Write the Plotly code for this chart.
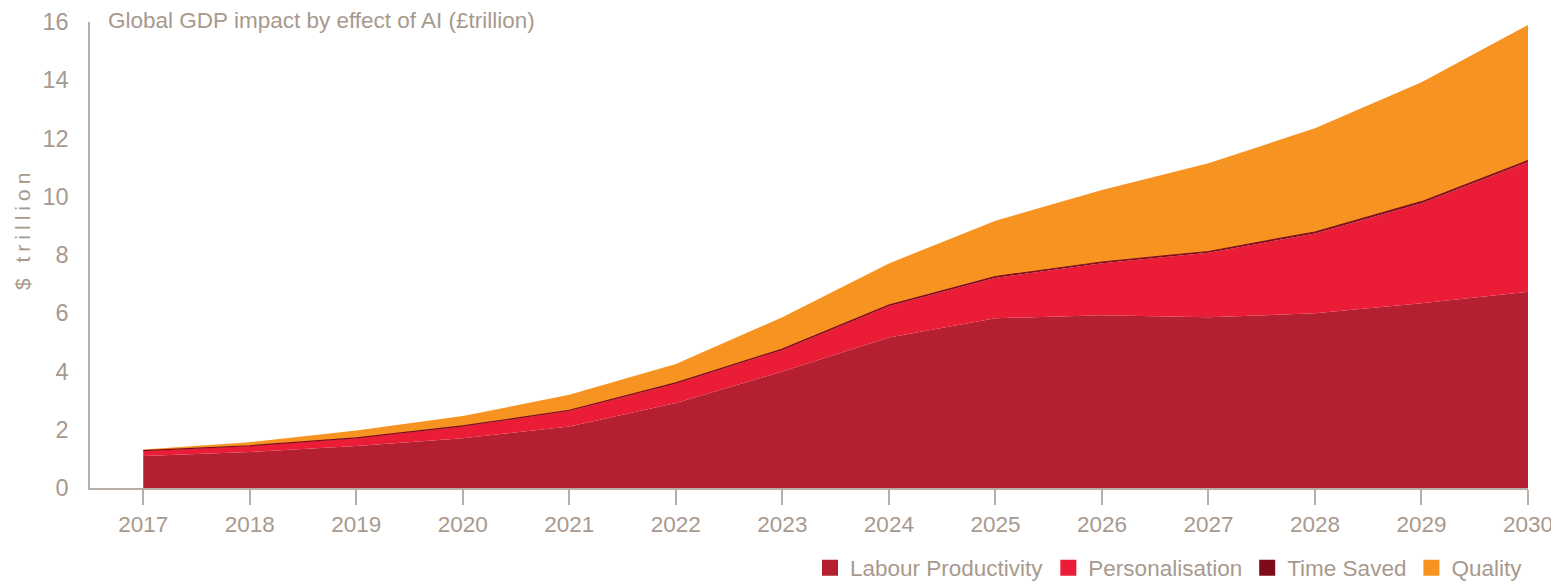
import plotly.graph_objects as go

years = list(range(2017, 2031))
labour_productivity = [1.10, 1.24, 1.44, 1.71, 2.11, 2.92, 4.00, 5.17, 5.83, 5.93, 5.86, 6.00, 6.34, 6.74]
personalisation = [0.17, 0.20, 0.27, 0.40, 0.54, 0.67, 0.74, 1.08, 1.39, 1.79, 2.22, 2.74, 3.44, 4.45]
time_saved = [0.01, 0.01, 0.01, 0.02, 0.02, 0.02, 0.03, 0.03, 0.04, 0.04, 0.04, 0.05, 0.05, 0.05]
quality = [0.04, 0.12, 0.25, 0.34, 0.53, 0.65, 1.09, 1.43, 1.92, 2.47, 3.03, 3.56, 4.10, 4.66]

series_names = ["Labour Productivity", "Personalisation", "Time Saved", "Quality"]
series_values = [labour_productivity, personalisation, time_saved, quality]
colors = ["#b51f32", "#eb1c36", "#7e0a1b", "#f79321"]
line_widths = [0, 0, 1.2, 0]

y_ticks = [0, 2, 4, 6, 8, 10, 12, 14, 16]

FONT = "Liberation Sans, Arial, sans-serif"
FS = 22.5
TXT = "#a8998e"
AX = "#b8aea7"

# page body has an 8px margin, so the figure is offset by 8px inside the window
W, H = 1551, 577

fig = go.Figure()
for name, vals, col, lw in zip(series_names, series_values, colors, line_widths):
    fig.add_trace(go.Scatter(
        x=years, y=vals, name=name, mode="lines",
        stackgroup="one", fillcolor=col,
        line=dict(color=col, width=lw),
        showlegend=False, hoverinfo="x+y+name",
    ))
# legend entries as square swatches
for name, col in zip(series_names, colors):
    fig.add_trace(go.Scatter(
        x=[None], y=[None], name=name, mode="markers",
        marker=dict(symbol="square", size=20, color=col),
        showlegend=True,
    ))

fig.update_layout(
    width=W, height=H,
    margin=dict(l=82, r=31, t=14, b=97, autoexpand=False),
    paper_bgcolor="white", plot_bgcolor="white",
    font=dict(family=FONT, size=FS, color=TXT),
    title=dict(
        text="Global GDP impact by effect of AI (£trillion)",
        x=100 / W, xanchor="left", xref="container",
        y=1 - 12 / H, yanchor="middle", yref="container",
        font=dict(family=FONT, size=FS, color=TXT),
    ),
    legend=dict(
        orientation="h", x=1.0, xanchor="right",
        y=(488 - 568) / 466, yanchor="middle",
        font=dict(family=FONT, size=FS, color=TXT),
        itemclick=False, traceorder="normal",
        bgcolor="rgba(0,0,0,0)",
    ),
    xaxis=dict(
        range=[2016.5, 2030], tickmode="array", tickvals=years,
        ticktext=[str(y) for y in years],
        showgrid=False, zeroline=False, automargin=False,
        ticklabeloverflow="allow",
        showline=True, linecolor=AX, linewidth=1.5,
        ticks="outside", ticklen=15, tickwidth=1.5, tickcolor=AX,
        ticklabelstandoff=0,
        tickfont=dict(family=FONT, size=FS, color=TXT),
    ),
    yaxis=dict(
        range=[0, 16], tickmode="array", tickvals=y_ticks,
        showgrid=False, zeroline=False, automargin=False,
        showline=True, linecolor=AX, linewidth=1.5,
        ticks="", ticklabelstandoff=15,
        tickfont=dict(family=FONT, size=23.5, color=TXT),
    ),
    annotations=[dict(
        text='<span style="letter-spacing:5px">$ trillion</span>',
        xref="paper", yref="paper",
        x=(22 - 90) / 1438, y=(488 - 229) / 466,
        xanchor="center", yanchor="middle",
        textangle=-90, showarrow=False,
        font=dict(family=FONT, size=21, color=TXT),
    )],
)

fig.write_html("out.html")
